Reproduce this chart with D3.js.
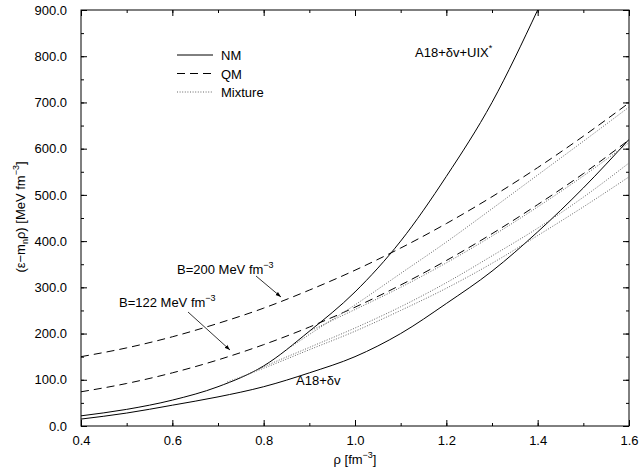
<!DOCTYPE html>
<html><head><meta charset="utf-8">
<script src="https://cdn.jsdelivr.net/npm/d3@7"></script>
<style>
body{margin:0;background:#fff;}
svg text{font-family:"Liberation Sans",Arial,sans-serif;fill:#000;}
</style></head><body>
<svg id="c" width="642" height="472"></svg>
<script>
// ---- data ----
const rho = [0.4,0.5,0.6,0.7,0.8,0.9,1.0,1.1,1.2,1.3,1.4,1.5,1.6];
const nmA18 = [15,28,45,63,85,115,150,200,265,335,420,515,620];
const rhoUIX = [0.4,0.5,0.6,0.7,0.8,0.9,1.0,1.1,1.2,1.3,1.4];
const nmUIX = [22,36,56,85,130,205,290,400,540,700,900];
const qm200 = [150,169,193,222,255,294,337,385,438,496,559,627,699];
const qm122 = [74,92,115,143,176,214,257,305,358,416,479,546,619];
const rhoMixA = [0.85,0.9,1.0,1.1,1.2,1.3,1.4,1.5,1.6];
const mixA = [165,198,262,330,398,470,543,616,690];
const rhoMixB = [0.9,1.0,1.1,1.2,1.3,1.4,1.5,1.6];
const mixB = [205,252,300,353,411,474,541,613];
const rhoMixC = [0.75,0.8,0.9,1.0,1.1,1.2,1.3,1.4,1.5,1.6];
const mixC = [105,128,170,212,258,310,368,428,495,569];
const rhoMixD = [0.72,0.8,0.9,1.0,1.1,1.2,1.3,1.4,1.5,1.6];
const mixD = [95,125,165,205,250,298,352,412,474,539];
const xTicks = [0.4,0.6,0.8,1.0,1.2,1.4,1.6];
const yTicks = [0,100,200,300,400,500,600,700,800,900];
const legendItems = ["NM","QM","Mixture"];

// ---- layout ----
const svg = d3.select("#c");
const L=81, R=629, T=10, B=426;
const x = d3.scaleLinear().domain([0.4,1.6]).range([L,R]);
const y = d3.scaleLinear().domain([0,900]).range([B,T]);

const defs = svg.append("defs");
defs.append("marker").attr("id","ah").attr("viewBox","0 0 10 10").attr("refX",10).attr("refY",5)
  .attr("markerWidth",7).attr("markerHeight",7).attr("orient","auto")
  .append("path").attr("d","M0,1.5 L10,5 L0,8.5 Z").attr("fill","#000");
defs.append("clipPath").attr("id","clip").append("rect").attr("x",L).attr("y",T).attr("width",R-L).attr("height",B-T);

// axes with inward ticks
const minorX = d3.range(0.4,1.6001,0.1).map(v=>+v.toFixed(2));
const minorY = d3.range(0,901,50);
function ax(gen,tr){return svg.append("g").attr("transform",tr).call(gen).call(g=>g.select(".domain").remove());}
const fmt1 = d3.format(".1f");
ax(d3.axisBottom(x).tickValues(minorX).tickSize(-3).tickFormat(""),`translate(0,${B})`);
ax(d3.axisTop(x).tickValues(minorX).tickSize(-3).tickFormat(""),`translate(0,${T})`);
ax(d3.axisLeft(y).tickValues(minorY).tickSize(-3).tickFormat(""),`translate(${L},0)`);
ax(d3.axisRight(y).tickValues(minorY).tickSize(-3).tickFormat(""),`translate(${R},0)`);
const gxb = ax(d3.axisBottom(x).tickValues(xTicks).tickSize(-6).tickPadding(10).tickFormat(fmt1),`translate(0,${B})`);
ax(d3.axisTop(x).tickValues(xTicks).tickSize(-6).tickFormat(""),`translate(0,${T})`);
const gyl = ax(d3.axisLeft(y).tickValues(yTicks).tickSize(-6).tickPadding(14).tickFormat(fmt1),`translate(${L},0)`);
ax(d3.axisRight(y).tickValues(yTicks).tickSize(-6).tickFormat(""),`translate(${R},0)`);
svg.selectAll(".tick line").attr("stroke","#000").attr("stroke-width",1);
svg.selectAll(".tick text").attr("font-size",13).attr("font-family","Liberation Sans, Arial, sans-serif");
gyl.selectAll(".tick text").attr("dy","0.32em");

svg.append("rect").attr("x",L).attr("y",T).attr("width",R-L).attr("height",B-T)
  .attr("fill","none").attr("stroke","#000").attr("stroke-width",1);

// curves
const line = d3.line().x(d=>x(d[0])).y(d=>y(d[1])).curve(d3.curveMonotoneX);
const plot = svg.append("g").attr("clip-path","url(#clip)");
function draw(xs,ys,style){
  const p = plot.append("path").datum(xs.map((v,i)=>[v,ys[i]])).attr("d",line)
    .attr("fill","none").attr("stroke",style.c).attr("stroke-width",style.w);
  if(style.d) p.attr("stroke-dasharray",style.d);
}
const sNM={c:"#000",w:1}, sQM={c:"#000",w:1,d:"8,5"}, sMix={c:"#666",w:1,d:"1,1.6"};
draw(rho,nmA18,sNM);
draw(rhoUIX,nmUIX,sNM);
draw(rho,qm200,sQM);
draw(rho,qm122,sQM);
draw(rhoMixA,mixA,sMix);
draw(rhoMixB,mixB,sMix);
draw(rhoMixC,mixC,sMix);
draw(rhoMixD,mixD,sMix);

// legend
const styles=[sNM,sQM,sMix];
legendItems.forEach((t,i)=>{
  const yy = 55 + i*18.5;
  const l = svg.append("line").attr("x1",177).attr("x2",213).attr("y1",yy).attr("y2",yy)
    .attr("stroke",styles[i].c).attr("stroke-width",1);
  if(styles[i].d) l.attr("stroke-dasharray",styles[i].d);
  svg.append("text").attr("x",221).attr("y",yy+5).attr("font-size",13).text(t);
});

// annotations
function lab(xp,yp,parts){
  const t = svg.append("text").attr("x",xp).attr("y",yp).attr("font-size",13);
  parts.forEach(p=>{
    const s=t.append("tspan").text(p[0]);
    if(p[1]){s.attr("font-size",9).attr("dy",-6);} 
  });
  return t;
}
lab(415,57,[["A18+δv+UIX"],["*",1]]);
lab(296,385,[["A18+δv"]]);
lab(177,274,[["B=200 MeV fm"],["−3",1]]);
lab(119,307,[["B=122 MeV fm"],["−3",1]]);
svg.append("line").attr("x1",256).attr("y1",276).attr("x2",281).attr("y2",297)
  .attr("stroke","#000").attr("stroke-width",0.8).attr("marker-end","url(#ah)");
svg.append("line").attr("x1",188).attr("y1",312).attr("x2",230).attr("y2",350)
  .attr("stroke","#000").attr("stroke-width",0.8).attr("marker-end","url(#ah)");

// axis titles
const xt = svg.append("text").attr("x",355).attr("y",464).attr("text-anchor","middle").attr("font-size",13);
xt.append("tspan").text("ρ [fm");
xt.append("tspan").attr("font-size",9).attr("dy",-6).text("−3");
xt.append("tspan").attr("dy",6).text("]");
const yt = svg.append("text").attr("transform","translate(25,217) rotate(-90)").attr("text-anchor","middle").attr("font-size",13);
yt.append("tspan").text("(ε−m");
yt.append("tspan").attr("font-size",9).attr("dy",3).text("n");
yt.append("tspan").attr("dy",-3).text("ρ) [MeV fm");
yt.append("tspan").attr("font-size",9).attr("dy",-6).text("−3");
yt.append("tspan").attr("dy",6).text("]");
</script></body></html>
